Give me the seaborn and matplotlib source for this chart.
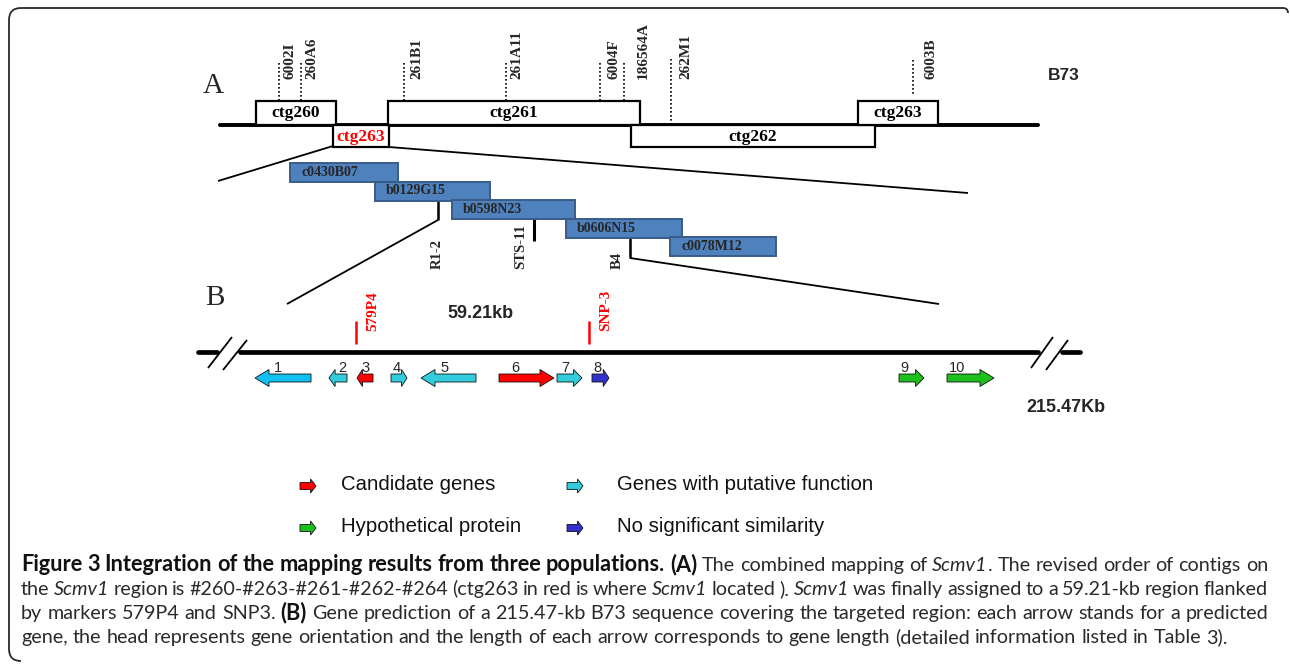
import matplotlib
matplotlib.use("Agg")
import matplotlib.pyplot as plt
from matplotlib.patches import Rectangle, Polygon, PathPatch
from matplotlib.path import Path
import seaborn as sns

# ---------------- Panel A: contig map (diagram coordinates) ----------------
contig_names = ["ctg260", "ctg263", "ctg261", "ctg262", "ctg263"]
contig_start = [256, 333, 388, 631, 858]
contig_end = [336, 389, 640, 875, 938]
contig_side = ["up", "down", "up", "down", "up"]
contig_text_color = ["black", "red", "black", "black", "black"]

marker_names = ["6002I", "260A6", "261B1", "261A11", "6004F", "186564A", "262M1", "6003B"]
marker_pos = [279, 301, 404, 506, 600, 624, 671, 913]
marker_label_x = [290, 312, 417, 517, 614, 643, 686, 931]
marker_top = [63, 63, 63, 63, 63, 63, 59, 60]
marker_bottom = [101, 101, 101, 101, 101, 101, 125, 95]

bac_names = ["c0430B07", "b0129G15", "b0598N23", "b0606N15", "c0078M12"]
bac_start = [290, 375, 452, 566, 670]
bac_end = [398, 490, 575, 682, 776]

anchor_names = ["R1-2", "STS-11", "B4"]
anchor_pos = [438, 534, 630]
anchor_label_x = [437, 521, 617]

# ---------------- Panel B: gene prediction ----------------
gene_ids = ["1", "2", "3", "4", "5", "6", "7", "8", "9", "10"]
gene_start = [255, 329, 357, 391, 421, 499, 557, 592, 899, 947]
gene_end = [311, 347, 373, 407, 476, 554, 582, 609, 924, 994]
gene_strand = [-1, -1, -1, 1, -1, 1, 1, 1, 1, 1]
gene_class = ["putative", "putative", "candidate", "putative", "putative",
              "candidate", "putative", "nosim", "hypo", "hypo"]
gene_label_x = [278, 342, 366, 397, 445, 515, 565, 597, 904, 957]

flank_names = ["579P4", "SNP-3"]
flank_pos = [356, 589]

legend_classes = ["candidate", "putative", "hypo", "nosim"]
legend_labels = ["Candidate genes", "Genes with putative function",
                 "Hypothetical protein", "No significant similarity"]

class_colors = {"candidate": "#FF0000", "putative": "#33CCDD",
                "hypo": "#1DBF1D", "nosim": "#3333CC"}

caption_lines = [
    [("b", "Figure 3 Integration of the mapping results from three populations."),
     ("b", " (A)"), ("r", " The combined mapping of "), ("i", "Scmv1"),
     ("r", ". The revised order of contigs on")],
    [("r", "the "), ("i", "Scmv1"),
     ("r", " region is #260-#263-#261-#262-#264 (ctg263 in red is where "),
     ("i", "Scmv1"), ("r", " located ). "), ("i", "Scmv1"),
     ("r", " was finally assigned to a 59.21-kb region flanked")],
    [("r", "by markers 579P4 and SNP3. "), ("b", "(B)"),
     ("r", " Gene prediction of a 215.47-kb B73 sequence covering the targeted region: each arrow stands for a predicted")],
    [("r", "gene, the head represents gene orientation and the length of each arrow corresponds to gene length (detailed information listed in Table 3).")],
]

sns.set_theme(style="white")
plt.rcParams["font.family"] = ["DejaVu Sans"]

fig = plt.figure(figsize=(12.9, 6.66), dpi=100)
ax = fig.add_axes([0, 0, 1, 1])
ax.set_xlim(0, 1290)
ax.set_ylim(666, 0)
ax.axis("off")

SERIF = "Liberation Serif"
SANS = "Liberation Sans"


def hline(x0, x1, y, lw, color="black"):
    sns.lineplot(x=[x0, x1], y=[y, y], color=color, lw=lw, ax=ax,
                 estimator=None, sort=False, legend=False)


def seg(p0, p1, lw, color="black", **kw):
    ax.plot([p0[0], p1[0]], [p0[1], p1[1]], color=color, lw=lw,
            solid_capstyle="butt", **kw)


# frame around the figure
verts = [(21, 661), (9, 661), (9, 649), (9, 20), (9, 8), (21, 8),
         (1283, 8), (1288, 8), (1288, 13)]
codes = [Path.MOVETO, Path.CURVE3, Path.CURVE3, Path.LINETO, Path.CURVE3,
         Path.CURVE3, Path.LINETO, Path.CURVE3, Path.CURVE3]
ax.add_patch(PathPatch(Path(verts, codes), fill=False, edgecolor="#2a2a2a", lw=1.3))

# ---- Panel A ----
ax.text(213, 86, "A", fontfamily=SERIF, fontsize=21, ha="center", va="center")
ax.text(1048, 76, "B73", fontfamily=SANS, fontweight="bold", fontsize=12.5,
        ha="left", va="center")

hline(220, 1038, 125, 2.6)

for name, s, e, side, tc in zip(contig_names, contig_start, contig_end,
                                contig_side, contig_text_color):
    if side == "up":
        y0, h, ty = 101, 24, 113
    else:
        y0, h, ty = 125, 22, 137
    ax.add_patch(Rectangle((s, y0), e - s, h, facecolor="white",
                           edgecolor="black", lw=1.6, zorder=3))
    ax.text((s + e) / 2, ty, name, fontfamily=SERIF, fontweight="bold",
            fontsize=12.5, color=tc, ha="center", va="center", zorder=4)
hline(220, 1038, 125, 2.6)

for name, x, lx, t, b in zip(marker_names, marker_pos, marker_label_x,
                             marker_top, marker_bottom):
    ax.plot([x, x], [t, b], color="black", lw=1.2, ls=(0, (1, 1.4)))
    ax.text(lx, 79, name, fontfamily=SERIF, fontweight="bold", fontsize=11,
            rotation=90, ha="center", va="bottom")

# zoom lines from ctg263 to the BAC tiling path
seg((333, 146), (218, 181), 1.3)
seg((389, 147), (968, 193), 1.3)

for i, (name, s, e) in enumerate(zip(bac_names, bac_start, bac_end)):
    y0 = 163 + i * 18.5
    ax.add_patch(Rectangle((s, y0), e - s, 19, facecolor="#4F81BD",
                           edgecolor="#385D8A", lw=1.4, zorder=3))
    ax.text(s + 11, y0 + 9.5, name, fontfamily=SERIF, fontweight="bold",
            fontsize=10, ha="left", va="center", zorder=4)

# anchor markers below the clones
seg((anchor_pos[0], 200), (anchor_pos[0], 220), 1.8)
seg((anchor_pos[1], 218), (anchor_pos[1], 241), 2.2)
seg((anchor_pos[2], 237), (anchor_pos[2], 258), 1.8)
for name, lx in zip(anchor_names, anchor_label_x):
    ax.text(lx, 269, name, fontfamily=SERIF, fontweight="bold", fontsize=10.5,
            rotation=90, ha="center", va="bottom")

# zoom lines towards panel B
seg((anchor_pos[0], 220), (287, 304), 1.3)
seg((anchor_pos[2], 258), (939, 304), 1.3)

# ---- Panel B ----
ax.text(215, 298, "B", fontfamily=SERIF, fontsize=21, ha="center", va="center")

hline(198, 217, 352, 3.4)
hline(240, 1038, 352, 3.4)
hline(1062, 1080, 352, 3.4)
for p0, p1 in [((208, 368), (232, 337)), ((223, 370), (247, 340)),
               ((1031, 368), (1053, 337)), ((1046, 370), (1068, 340))]:
    seg(p0, p1, 1.3)

ax.text(481, 314, "59.21kb", fontfamily=SANS, fontweight="bold", fontsize=13,
        ha="center", va="center")
ax.text(1066, 408, "215.47Kb", fontfamily=SANS, fontweight="bold", fontsize=13,
        ha="center", va="center")

for name, x in zip(flank_names, flank_pos):
    seg((x, 321), (x, 344), 1.8, color="red")
    ax.text(x + 17, 331, name, fontfamily=SERIF, fontweight="bold", fontsize=11,
            color="red", rotation=90, ha="center", va="bottom")


def gene_arrow(x0, x1, yc, strand, color, body=4.0, head=8.5, head_max=14):
    L = x1 - x0
    hl = min(0.34 * L, head_max)
    if strand > 0:
        pts = [(x0, yc - body), (x1 - hl, yc - body), (x1 - hl, yc - head),
               (x1, yc), (x1 - hl, yc + head), (x1 - hl, yc + body), (x0, yc + body)]
    else:
        pts = [(x1, yc - body), (x0 + hl, yc - body), (x0 + hl, yc - head),
               (x0, yc), (x0 + hl, yc + head), (x0 + hl, yc + body), (x1, yc + body)]
    ax.add_patch(Polygon(pts, closed=True, facecolor=color, edgecolor="#111111",
                         lw=0.6, joinstyle="miter", zorder=3))


for i, (gid, s, e, st, cl, lx) in enumerate(zip(gene_ids, gene_start, gene_end,
                                                 gene_strand, gene_class, gene_label_x)):
    color = class_colors[cl]
    if i == 0:
        color = "#10C0F0"
    gene_arrow(s, e, 378, st, color)
    ax.text(lx, 372, gid, fontfamily=SANS, fontsize=10.5, ha="center",
            va="baseline")

# legend
legend_arrow_xy = [(300, 486), (567, 486), (300, 528), (567, 528)]
legend_text_x = [341, 617, 341, 617]
for cl, lab, (lx, ly), tx in zip(legend_classes, legend_labels,
                                 legend_arrow_xy, legend_text_x):
    gene_arrow(lx, lx + 16, ly, 1, class_colors[cl], body=3.5, head=7, head_max=7)
    ax.text(tx, ly - 1, lab, fontfamily=SANS, fontsize=14.7, ha="left",
            va="center", color="#111111")

# ---- caption (justified, mixed styles) ----
fig.canvas.draw()
renderer = fig.canvas.get_renderer()
CAP = "Lato"
LEFT, RIGHT = 21, 1268
BASELINES = [571, 595, 619, 643]


def style_kw(style, size, bold_size):
    if style == "b":
        return dict(fontfamily=CAP, fontweight="bold", fontsize=bold_size)
    if style == "i":
        return dict(fontfamily=CAP, fontstyle="italic", fontsize=size)
    return dict(fontfamily=CAP, fontsize=size)


def measure(s, kw):
    t = ax.text(0, 0, s, **kw)
    w = t.get_window_extent(renderer).width
    t.remove()
    return w


def tokens_of(runs):
    toks, cur = [], []
    for style, text in runs:
        parts = text.split(" ")
        for k, p in enumerate(parts):
            if k > 0 and cur:
                toks.append(cur)
                cur = []
            if p:
                cur.append((p, style))
    if cur:
        toks.append(cur)
    return toks


# regular size: the last (unjustified) line ends at x=1226
base = 12.0
kw0 = style_kw("r", base, base)
sp0 = measure("a a", kw0) - measure("aa", kw0)
last = tokens_of(caption_lines[-1])
w_nat = sum(measure(p, kw0) for tok in last for p, st in tok) + sp0 * (len(last) - 1)
cap_size = base * (1226 - LEFT) / w_nat

kw_r = style_kw("r", cap_size, cap_size)
space = measure("a a", kw_r) - measure("aa", kw_r)

# bold size: the first line sets naturally across the full width
first = tokens_of(caption_lines[0])
nonbold = sum(measure(p, style_kw(st, cap_size, cap_size))
              for tok in first for p, st in tok if st != "b")
bold_base = sum(measure(p, style_kw("b", base, base))
                for tok in first for p, st in tok if st == "b")
bold_size = base * (RIGHT - LEFT - nonbold - space * (len(first) - 1)) / bold_base

for li, runs in enumerate(caption_lines):
    toks = tokens_of(runs)
    widths = [[measure(p, style_kw(st, cap_size, bold_size)) for p, st in tok]
              for tok in toks]
    total = sum(sum(w) for w in widths)
    if li < len(caption_lines) - 1:
        gap = (RIGHT - LEFT - total) / (len(toks) - 1)
    else:
        gap = space
    x = LEFT
    for tok, ws in zip(toks, widths):
        for (p, st), w in zip(tok, ws):
            col = "#111111" if st == "b" else "#2a2a2a"
            ax.text(x, BASELINES[li], p, color=col, ha="left", va="baseline",
                    **style_kw(st, cap_size, bold_size))
            x += w
        x += gap

fig.savefig("out.png", dpi=100)
